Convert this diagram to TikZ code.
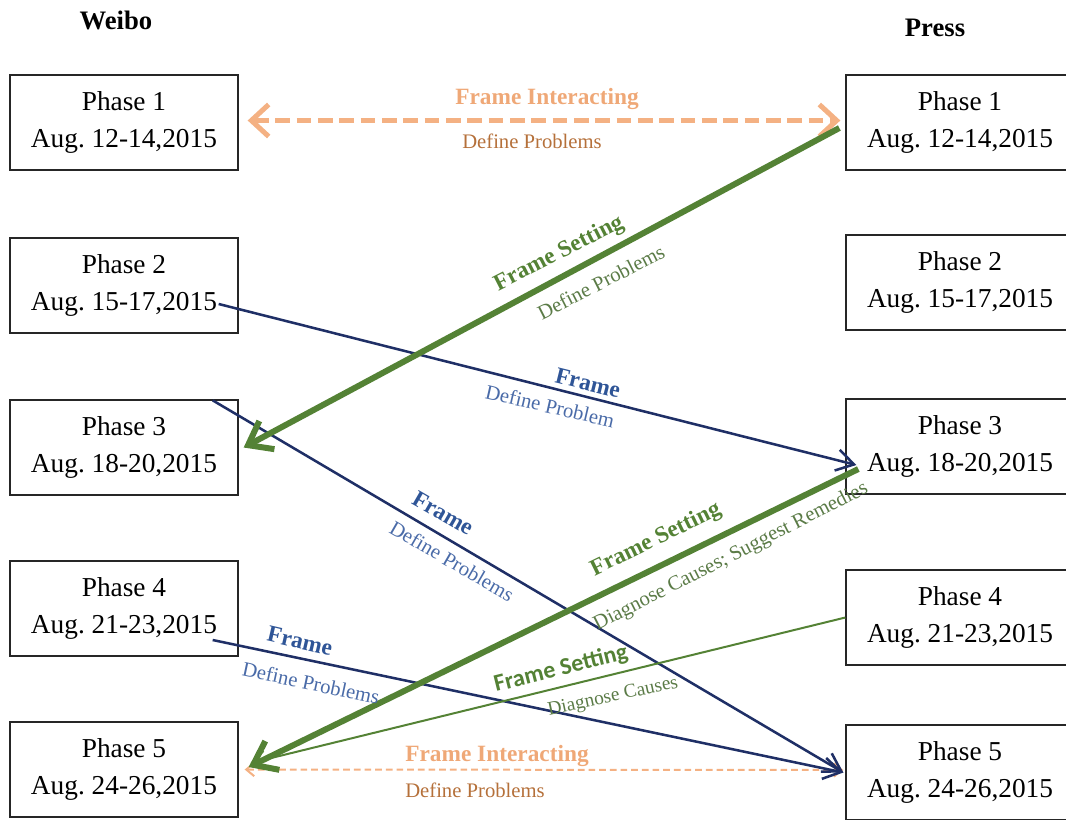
\documentclass[tikz,border=0pt]{standalone}
\usepackage{fontspec}
\setmainfont{Liberation Serif}
\newfontfamily\calib{Carlito}
\usetikzlibrary{arrows.meta,calc}
\definecolor{orline}{HTML}{F4B183}
\definecolor{ortext}{HTML}{EFA877}
\definecolor{ordef}{HTML}{B5703A}
\definecolor{navy}{HTML}{1F2F66}
\definecolor{bluet}{HTML}{2F5597}
\definecolor{bluedef}{HTML}{4A6BA8}
\definecolor{grn}{HTML}{548235}
\definecolor{grndef}{HTML}{5B7B47}
\frenchspacing
\begin{document}
\begin{tikzpicture}[x=0.75pt,y=-0.75pt,
  phasebox/.style={draw=black!85, line width=1pt, minimum width=171pt, minimum height=71.25pt,
    align=center, inner sep=0pt, font=\fontsize{20.5}{27.5}\selectfont},
  hdr/.style={font=\fontsize{20}{24}\selectfont\bfseries, inner sep=0pt},
  lblb/.style={font=\fontsize{17.5}{20}\selectfont\bfseries, inner sep=0pt},
  lbls/.style={font=\fontsize{15.5}{18}\selectfont, inner sep=0pt},
  orthick/.style={draw=orline, line width=3.75pt, dash pattern=on 11pt off 5pt,
    {Straight Barb[length=13pt,width=24pt]}-{Straight Barb[length=13pt,width=24pt]}},
  orthin/.style={draw=orline, line width=1.5pt, dash pattern=on 5pt off 3pt,
    {Straight Barb[length=6pt,width=10pt]}-{Straight Barb[length=6pt,width=10pt]}},
  navyarr/.style={draw=navy, line width=1.9pt, -{Straight Barb[length=13pt,width=16pt]}},
  grnthick/.style={draw=grn, line width=4.5pt, -{Straight Barb[length=16pt,width=24pt]}},
  grnthin/.style={draw=grn, line width=1.5pt, -{Straight Barb[length=10pt,width=13pt]}}
]
\useasboundingbox (0,0) rectangle (1066,819);

% headers
\node[hdr] (hw) at (116,20) {Weibo};
\node[hdr] (hp) at (935,28) {Press};

% Weibo boxes
\node[phasebox] (w1) at (124,122.5) {Phase 1\\Aug. 12-14,2015};
\node[phasebox] (w2) at (124,285.5) {Phase 2\\Aug. 15-17,2015};
\node[phasebox] (w3) at (124,447.5) {Phase 3\\Aug. 18-20,2015};
\node[phasebox] (w4) at (124,608.5) {Phase 4\\Aug. 21-23,2015};
\node[phasebox] (w5) at (124,769.5) {Phase 5\\Aug. 24-26,2015};

% Press boxes
\node[phasebox] (p1) at (960,122.5) {Phase 1\\Aug. 12-14,2015};
\node[phasebox] (p2) at (960,282.5) {Phase 2\\Aug. 15-17,2015};
\node[phasebox] (p3) at (960,446.5) {Phase 3\\Aug. 18-20,2015};
\node[phasebox] (p4) at (960,617.5) {Phase 4\\Aug. 21-23,2015};
\node[phasebox] (p5) at (960,772.5) {Phase 5\\Aug. 24-26,2015};

% orange interactions
\draw[orthick] ($(w1.east)+(9,-2)$) -- ($(p1.west)+(-5,-2)$);
\draw[orthin] ($(w5.east)+(6,0)$) -- ($(p5.west)+(-2,-2.5)$);

% navy frames
\draw[navyarr] ($(w2.east)+(-20,18.5)$) -- ($(p3.west)+(11,18.5)$);
\draw[navyarr] ($(w3.north east)+(-26,1)$) -- ($(p5.west)+(-2,0)$);
\draw[navyarr] ($(w4.east)+(-26,31.5)$) -- ($(p5.west)+(-2,0)$);

% green frame setting
\draw[grnthick] ($(p1.west)+(-6,5.5)$) -- ($(w3.east)+(5,0)$);
\draw[grnthick] ($(p3.west)+(13,22.5)$) -- ($(w5.east)+(10,-2.5)$);
\draw[grnthin] ($(p4.west)+(0,0)$) -- ($(w5.east)+(12,-6.5)$);

% labels
\node[lblb, text=ortext] (l1a) at (547,99) {Frame Interacting};
\node[lbls, text=ordef] (l1b) at (532,141) {Define Problems};

\node[lblb, text=grn, rotate=27] (l2a) at (559,254) {Frame Setting};
\node[lbls, text=grndef, rotate=27] (l2b) at (601,282) {Define Problems};

\node[lblb, text=bluet, rotate=-14] (l3a) at (588,383) {Frame};
\node[lbls, text=bluedef, rotate=-13] (l3b) at (550,406) {Define Problem};

\node[lblb, text=bluet, rotate=-30] (l4a) at (443,513) {Frame};
\node[lbls, text=bluedef, rotate=-30] (l4b) at (452,561) {Define Problems};

\node[lblb, text=bluet, rotate=-13] (l5a) at (300,641) {Frame};
\node[lbls, text=bluedef, rotate=-12] (l5b) at (311,683) {Define Problems};

\node[lblb, text=grn, rotate=26] (l6a) at (656,540) {Frame Setting};
\node[lbls, text=grndef, rotate=27] (l6b) at (731,557) {Diagnose Causes; Suggest Remedies};

\node[lblb, text=grn, rotate=14, font=\calib\fontsize{18}{20}\selectfont\bfseries] (l7a) at (561,669) {Frame Setting};
\node[lbls, text=grndef, rotate=12, font=\fontsize{14.5}{17}\selectfont] (l7b) at (613,697) {Diagnose Causes};

\node[lblb, text=ortext] (l8a) at (497,756) {Frame Interacting};
\node[lbls, text=ordef] (l8b) at (475,790) {Define Problems};
\end{tikzpicture}
\end{document}
